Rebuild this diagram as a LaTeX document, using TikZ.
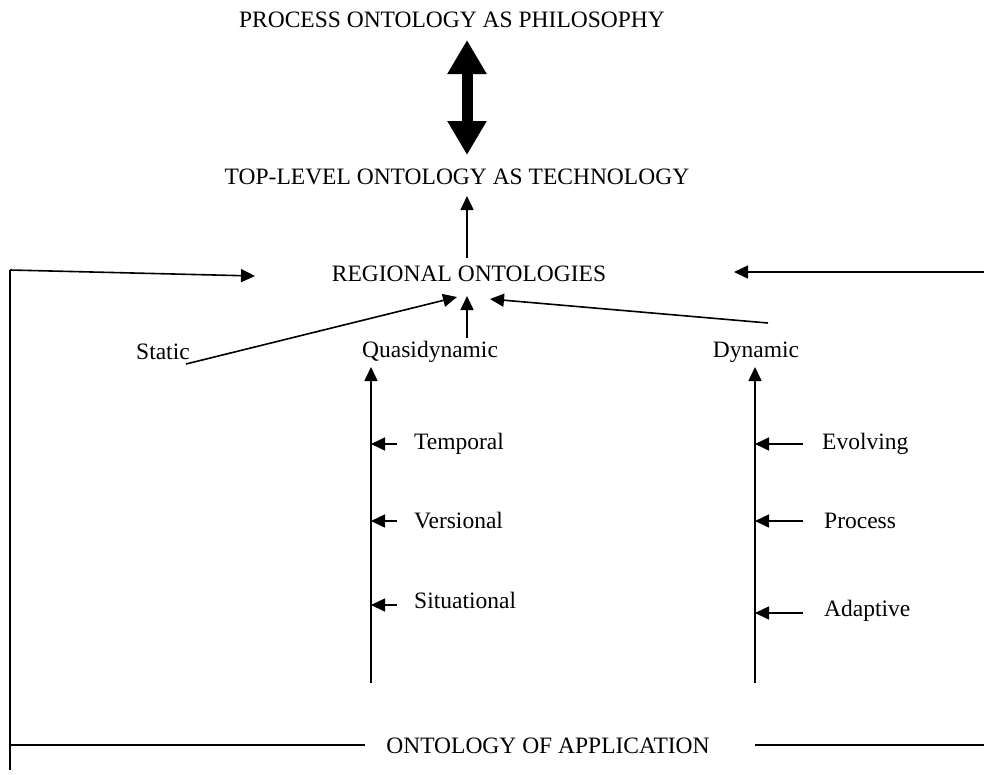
\documentclass[tikz,border=0pt]{standalone}
\usepackage{fontspec}
\setmainfont{Liberation Serif}
\usetikzlibrary{arrows.meta}
\begin{document}
\begin{tikzpicture}[x=1pt,y=-1pt,
  lbl/.style={font=\fontsize{23.5}{27}\selectfont,inner sep=0pt},
  conn/.style={line width=1.6pt},
  arr/.style={conn,-{Triangle[length=14pt,width=13pt]}},
  bigarr/.style={line width=11pt,{Triangle[length=34pt,width=37pt]}-{Triangle[length=34pt,width=37pt]}}]
\useasboundingbox (0,0) rectangle (984,774);
% text nodes
\node[lbl] (proc) at (452,20) {PROCESS ONTOLOGY AS PHILOSOPHY};
\node[lbl] (top) at (457,177) {TOP-LEVEL ONTOLOGY AS TECHNOLOGY};
\node[lbl] (reg) at (469,274) {REGIONAL ONTOLOGIES};
\node[lbl,anchor=west] (stat) at (136,352) {Static};
\node[lbl,anchor=west] (quasi) at (362,352) {Quasidynamic};
\node[lbl] (dyn) at (756,352) {Dynamic};
\node[lbl,anchor=west] (temp) at (414,444) {Temporal};
\node[lbl,anchor=west] (vers) at (414,521) {Versional};
\node[lbl,anchor=west] (sit) at (414,600) {Situational};
\node[lbl,anchor=west] (evol) at (822,444) {Evolving};
\node[lbl,anchor=west] (procx) at (824,521) {Process};
\node[lbl,anchor=west] (adap) at (824,611) {Adaptive};
\node[lbl] (app) at (548,746) {ONTOLOGY OF APPLICATION};
% coordinates
\coordinate (bigT) at (467,40);
\coordinate (bigB) at (467,155);
\coordinate (regT) at (467,258);
\coordinate (topB) at (467,196);
\coordinate (regB) at (467,296);
\coordinate (regBL) at (457,297);
\coordinate (regBR) at (490,299);
\coordinate (statE) at (186,364);
\coordinate (quasiT) at (467,338);
\coordinate (dynW) at (768,323);
\coordinate (qTop) at (371,367);
\coordinate (qBot) at (371,683);
\coordinate (dTop) at (755,367);
\coordinate (dBot) at (755,683);
\coordinate (LL) at (10,770);
\coordinate (LT) at (10,270);
\coordinate (LTip) at (255,276);
\coordinate (RS) at (984,272);
\coordinate (RTip) at (734,272);
\coordinate (B1) at (10,745);
\coordinate (B2) at (365,745);
\coordinate (B3) at (755,745);
\coordinate (B4) at (984,745);
\coordinate (t1) at (397,444);
\coordinate (t2) at (397,521);
\coordinate (t3) at (397,605);
\coordinate (t1e) at (371,444);
\coordinate (t2e) at (371,521);
\coordinate (t3e) at (371,605);
\coordinate (e1) at (803,444);
\coordinate (e2) at (803,521);
\coordinate (e3) at (803,613);
\coordinate (e1e) at (755,444);
\coordinate (e2e) at (755,521);
\coordinate (e3e) at (755,613);
% connectors
\draw[bigarr] (bigT) -- (bigB);
\draw[arr] (regT) -- (topB);
\draw[arr] (statE) -- (regBL);
\draw[arr] (quasiT) -- (regB);
\draw[arr] (dynW) -- (regBR);
\draw[arr] (qBot) -- (qTop);
\draw[arr] (dBot) -- (dTop);
\draw[arr] (t1) -- (t1e);
\draw[arr] (t2) -- (t2e);
\draw[arr] (t3) -- (t3e);
\draw[arr] (e1) -- (e1e);
\draw[arr] (e2) -- (e2e);
\draw[arr] (e3) -- (e3e);
\draw[conn] (LL) -- (LT);
\draw[arr] (LT) -- (LTip);
\draw[arr] (RS) -- (RTip);
\draw[conn] (B1) -- (B2);
\draw[conn] (B3) -- (B4);
\end{tikzpicture}
\end{document}
